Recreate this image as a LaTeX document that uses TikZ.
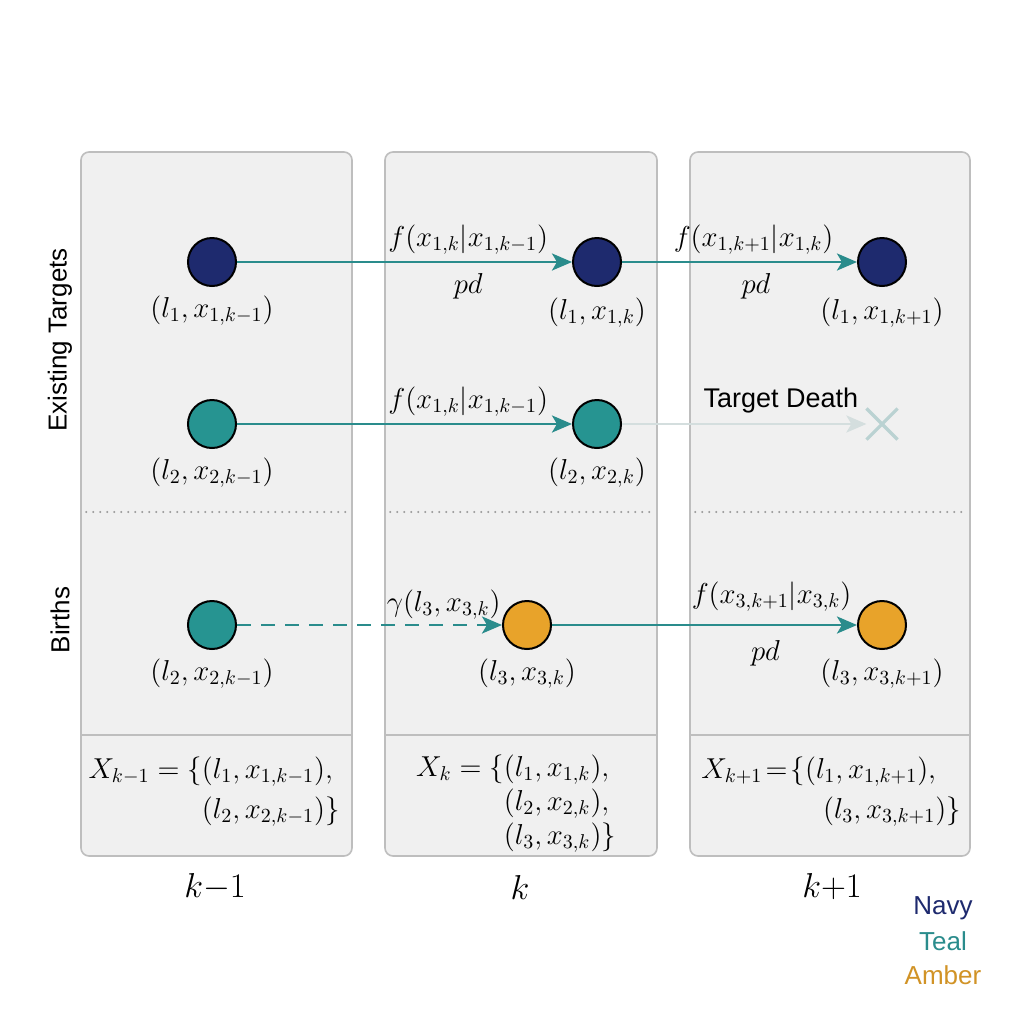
\documentclass[tikz,border=0pt]{standalone}
\usepackage{fontspec}
\setsansfont{Liberation Sans}
\usepackage{amsmath}
\usetikzlibrary{positioning, arrows.meta, shapes.misc}
\definecolor{navycol}{RGB}{30,42,110}
\definecolor{tealcol}{RGB}{38,148,145}
\definecolor{ambercol}{RGB}{232,163,42}
\definecolor{flowcol}{RGB}{42,140,140}
\definecolor{deadcol}{RGB}{212,222,222}
\definecolor{panelfill}{RGB}{240,240,240}
\definecolor{panelline}{RGB}{190,190,190}

\begin{document}
\begin{tikzpicture}[
			x=0.5pt, y=-0.5pt,
			panel/.style={
				draw=panelline,
				fill=panelfill,
				rounded corners=4pt,
				line width=0.8pt,
				minimum height=352pt,
				inner sep=0pt
			},
			target/.style={
				circle,
				draw=black,
				line width=1pt,
				minimum size=24pt,
				inner sep=0pt
			},
			lbl/.style={font=\fontsize{14}{16}\selectfont, inner sep=1pt},
			setlbl/.style={font=\fontsize{14.5}{18}\selectfont, inner sep=0pt},
			steplbl/.style={font=\fontsize{16}{18}\selectfont},
			rowlbl/.style={font=\sffamily\fontsize{13}{15}\selectfont, rotate=90},
			flow/.style={
				draw=flowcol,
				line width=1.4pt,
				-{Stealth[length=10pt, width=8.5pt, inset=2.5pt]}
			},
			birth/.style={flow, dash pattern=on 7pt off 5pt},
			death/.style={
				draw=deadcol,
				line width=1.4pt,
				-{Stealth[length=10pt, width=8.5pt, inset=2.5pt]}
			}
			]
			\useasboundingbox[fill=white] (0,0) rectangle (1024,1024);
			% Panels
			\node[panel, minimum width=135.5pt] (p1) at (216.5,504) {};
			\node[panel, minimum width=136pt] (p2) at (521,504) {};
			\node[panel, minimum width=140pt] (p3) at (830,504) {};
			\foreach \p in {p1,p2,p3}{
				\draw[panelline, line width=0.8pt] (\p.west |- 0,735) -- (\p.east |- 0,735);
				\draw[black!40, line width=1.1pt, line cap=round, dash pattern=on 0pt off 3.5pt,
					shorten <=3pt, shorten >=3pt] (\p.west |- 0,512) -- (\p.east |- 0,512);
			}
			% Row labels
			\node[rowlbl] (existing) at (60,340) {Existing Targets};
			\node[rowlbl] (births) at (60,620) {Births};
			% Targets
			\node[target, fill=navycol] (a1) at (212,262) {};
			\node[target, fill=navycol] (a2) at (597,262) {};
			\node[target, fill=navycol] (a3) at (882,262) {};
			\node[target, fill=tealcol] (b1) at (212,424) {};
			\node[target, fill=tealcol] (b2) at (597,424) {};
			\node[cross out, draw=deadcol!85!flowcol, line width=1.6pt, minimum size=14pt] (dead) at (882,424) {};
			\node[target, fill=tealcol] (c1) at (212,625) {};
			\node[target, fill=ambercol] (c2) at (527,625) {};
			\node[target, fill=ambercol] (c3) at (882,625) {};
			% Target labels
			\node[lbl, below=3pt of a1] (la1) {$(l_1, x_{1,k-1})$};
			\node[lbl, below=4pt of a2] (la2) {$(l_1, x_{1,k})$};
			\node[lbl, below=4pt of a3] (la3) {$(l_1, x_{1,k+1})$};
			\node[lbl, below=3pt of b1] (lb1) {$(l_2, x_{2,k-1})$};
			\node[lbl, below=3pt of b2] (lb2) {$(l_2, x_{2,k})$};
			\node[lbl, below=3pt of c1] (lc1) {$(l_2, x_{2,k-1})$};
			\node[lbl, below=3pt of c2] (lc2) {$(l_3, x_{3,k})$};
			\node[lbl, below=3pt of c3] (lc3) {$(l_3, x_{3,k+1})$};
			% Transitions
			\draw[flow] (a1) -- (a2)
				node[lbl, above=2pt, pos=0.69] (fa12) {$f(x_{1,k}|x_{1,k-1})$}
				node[lbl, below=4pt, pos=0.69] (pa12) {$pd$};
			\draw[flow] (a2) -- (a3)
				node[lbl, above=2pt, pos=0.56] (fa23) {$f(x_{1,k+1}|x_{1,k})$}
				node[lbl, below=4pt, pos=0.57] (pa23) {$pd$};
			\draw[flow] (b1) -- (b2)
				node[lbl, above=2pt, pos=0.69] (fb12) {$f(x_{1,k}|x_{1,k-1})$};
			\draw[death] (b2) -- (dead)
				node[above=1.5pt, pos=0.65, font=\sffamily\fontsize{13.5}{15}\selectfont] (death) {Target Death};
			\draw[birth] (c1) -- (c2)
				node[lbl, above=1pt, pos=0.78] (gc12) {$\gamma(l_3, x_{3,k})$};
			\draw[flow] (c2) -- (c3)
				node[lbl, above=5pt, pos=0.72] (fc23) {$f(x_{3,k+1}|x_{3,k})$}
				node[lbl, below=6pt, pos=0.70] (pc23) {$pd$};
			% Sets
			\node[setlbl] (set1) at (214,791) {$\begin{array}{@{}r@{}l@{}}
				X_{k-1} = \{ & (l_1, x_{1,k-1}),\\[2pt]
				 & (l_2, x_{2,k-1})\}\end{array}$};
			\node[setlbl] (set2) at (516,803) {$\begin{array}{@{}r@{}l@{}}
				X_{k} = \{ & (l_1, x_{1,k}),\\[-1pt]
				 & (l_2, x_{2,k}),\\[-1pt]
				 & (l_3, x_{3,k})\}\end{array}$};
			\node[setlbl] (set3) at (831,791) {$\begin{array}{@{}r@{}l@{}}
				X_{k+1}\!=\!\{ & (l_1, x_{1,k+1}),\\[2pt]
				 & \hspace*{9pt}(l_3, x_{3,k+1})\}\end{array}$};
			% Time steps
			\node[steplbl] (km1) at (215,887) {$k{-}1$};
			\node[steplbl] (k0) at (520,887) {$k$};
			\node[steplbl] (kp1) at (832,887) {$k{+}1$};
			% Legend
			\node[font=\sffamily\fontsize{13}{15}\selectfont, text=navycol] (navy) at (943,908) {Navy};
			\node[font=\sffamily\fontsize{13}{15}\selectfont, text=flowcol] (teal) at (943,941) {Teal};
			\node[font=\sffamily\fontsize{13}{15}\selectfont, text=ambercol!90!black] (amber) at (943,975) {Amber};
		\end{tikzpicture}
\end{document}
